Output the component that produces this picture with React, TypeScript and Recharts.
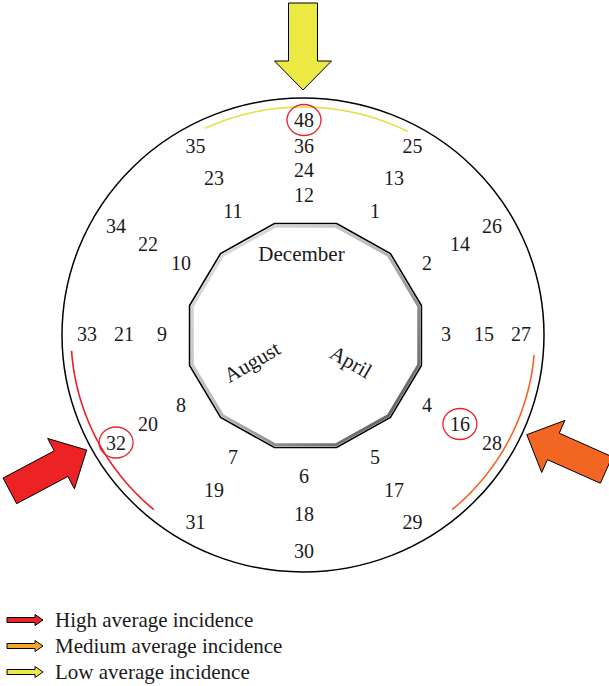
import React from 'react';
import { ScatterChart, Scatter, XAxis, YAxis, Customized } from 'recharts';

// ---------- data ----------
const weekNumbers = [
  1, 2, 3, 4, 5, 6, 7, 8, 9, 10, 11, 12,
  13, 14, 15, 16, 17, 18, 19, 20, 21, 22, 23, 24,
  25, 26, 27, 28, 29, 30, 31, 32, 33, 34, 35, 36,
  48,
];
const highlightedWeeks = [16, 32, 48];
const monthLabels = [
  { name: 'December', column: 12 },
  { name: 'April', column: 4 },
  { name: 'August', column: 8 },
];
const incidenceLevels = ['High', 'Medium', 'Low'];
const legendLabels = ['High average incidence', 'Medium average incidence', 'Low average incidence'];

// ---------- layout / style ----------
const W = 609;
const H = 686;
const FONT = '"Liberation Serif", "DejaVu Serif", serif';
const CX = 304;
const CY = 334;
const RING_R = [142, 180, 217, 245];
const TOP_R = [139, 164, 188, 214];

const levelStyle: Record<string, { arrow: string; arc: string; legend: string; arrowDeg: number; arcFrom: number; arcTo: number }> = {
  High: { arrow: '#ed2224', arc: '#e8202a', legend: '#ed2224', arrowDeg: 242, arcFrom: 220, arcTo: 266 },
  Medium: { arrow: '#f26522', arc: '#f26522', legend: '#f5a623', arrowDeg: 114, arcFrom: 95, arcTo: 140 },
  Low: { arrow: '#ece844', arc: '#e3e04c', legend: '#ece844', arrowDeg: 0, arcFrom: -25, arcTo: 27 },
};

const rad = (d: number) => (d * Math.PI) / 180;

function weekPos(w: number) {
  const col = ((w - 1) % 12) + 1;
  const ring = Math.ceil(w / 12) - 1;
  const deg = (col % 12) * 30;
  const r = col === 12 ? TOP_R[ring] : RING_R[ring];
  return { x: CX + r * Math.sin(rad(deg)), y: CY - r * Math.cos(rad(deg)) };
}

const numberData = weekNumbers.map((w) => ({ ...weekPos(w), week: w }));
const highlightData = highlightedWeeks.map((w) => ({ ...weekPos(w), week: w }));

const EX = 303;
const EY = 335;

function ellPt(rx: number, ry: number, deg: number): [number, number] {
  return [EX + rx * Math.sin(rad(deg)), EY - ry * Math.cos(rad(deg))];
}

function arcPath(rx: number, ry: number, from: number, to: number) {
  const pts: string[] = [];
  const n = 60;
  for (let i = 0; i <= n; i++) {
    const d = from + ((to - from) * i) / n;
    const [x, y] = ellPt(rx, ry, d);
    pts.push(`${i === 0 ? 'M' : 'L'}${x.toFixed(2)},${y.toFixed(2)}`);
  }
  return pts.join(' ');
}

function arrowPoints(deg: number, tipR: number) {
  const [tx, ty] = [EX + tipR * Math.sin(rad(deg)), EY - tipR * Math.cos(rad(deg))];
  const out = [Math.sin(rad(deg)), -Math.cos(rad(deg))];
  const tan = [Math.cos(rad(deg)), Math.sin(rad(deg))];
  const local = [
    [0, 0], [29, 28.5], [29, 14.5], [87, 14.5], [87, -14.5], [29, -14.5], [29, -28.5],
  ];
  return local
    .map(([u, v]) => `${(tx + u * out[0] + v * tan[0]).toFixed(2)},${(ty + u * out[1] + v * tan[1]).toFixed(2)}`)
    .join(' ');
}

function polyPoints(cx: number, cy: number, rx: number, ry: number) {
  const pts: string[] = [];
  for (let k = 0; k < 12; k++) {
    const d = 15 + 30 * k;
    pts.push(`${(cx + rx * Math.sin(rad(d))).toFixed(2)},${(cy - ry * Math.cos(rad(d))).toFixed(2)}`);
  }
  return pts.join(' ');
}

const Decor = () => {
  const PX = 305.5;
  const PY = 335.5;
  return (
    <g>
      <defs>
        <linearGradient id="bevel" x1="0" y1="0" x2="1" y2="1">
          <stop offset="0%" stopColor="#e6e6e6" />
          <stop offset="50%" stopColor="#b5b5b5" />
          <stop offset="100%" stopColor="#4a4a4a" />
        </linearGradient>
      </defs>
      <ellipse cx={EX} cy={EY} rx={241} ry={237} fill="#fff" stroke="#000" strokeWidth={1.5} />
      {incidenceLevels.map((lv) => (
        <path key={`arc-${lv}`} d={arcPath(232, 228, levelStyle[lv].arcFrom, levelStyle[lv].arcTo)} fill="none" stroke={levelStyle[lv].arc} strokeWidth={1.6} />
      ))}
      {incidenceLevels.map((lv) => (
        <polygon key={`arr-${lv}`} points={arrowPoints(levelStyle[lv].arrowDeg, 245)} fill={levelStyle[lv].arrow} stroke="#000" strokeWidth={1} strokeLinejoin="miter" />
      ))}
      <polygon points={polyPoints(PX, PY, 120, 116)} fill="#fff" stroke="#000" strokeWidth={1.6} />
      <polygon points={polyPoints(PX, PY, 117.2, 113.2)} fill="none" stroke="url(#bevel)" strokeWidth={3} />
      {monthLabels.map((m) => {
        const deg = (m.column % 12) * 30;
        const r = m.column === 12 ? 80 : 57;
        const x = PX - 4 + r * Math.sin(rad(deg));
        const y = PY - 2 - r * Math.cos(rad(deg));
        const rot = m.column === 12 ? 0 : deg < 180 ? deg - 90 : deg - 270;
        return (
          <text key={m.name} x={x} y={y} textAnchor="middle" dominantBaseline="central" fontFamily={FONT} fontSize={21} fill="#1a1a1a" transform={`rotate(${rot} ${x} ${y})`}>
            {m.name}
          </text>
        );
      })}
      {legendLabels.map((lab, i) => {
        const cy = 620 + i * 26;
        const col = levelStyle[incidenceLevels[i]].legend;
        const pts = `7,${cy - 2.5} 35,${cy - 2.5} 35,${cy - 5.5} 43,${cy} 35,${cy + 5.5} 35,${cy + 2.5} 7,${cy + 2.5}`;
        return (
          <g key={lab}>
            <polygon points={pts} fill={col} stroke="#000" strokeWidth={1} />
            <text x={55} y={cy} dominantBaseline="central" fontFamily={FONT} fontSize={21} fill="#1a1a1a">
              {lab}
            </text>
          </g>
        );
      })}
    </g>
  );
};

const NumberShape = (p: any) => (
  <text x={p.cx} y={p.cy} textAnchor="middle" dominantBaseline="central" fontFamily={FONT} fontSize={20} fill="#1a1a1a">
    {p.payload.week}
  </text>
);

const RingShape = (p: any) => (
  <ellipse cx={p.cx} cy={p.cy} rx={17} ry={15.5} fill="none" stroke="#e8232a" strokeWidth={1.3} />
);

export default function App() {
  return (
    <div style={{ position: 'absolute', left: 0, top: 0, width: W, height: H, background: '#fff' }}>
      <ScatterChart width={W} height={H} margin={{ top: 0, right: 0, bottom: 0, left: 0 }}>
        <XAxis type="number" dataKey="x" domain={[0, W]} hide allowDataOverflow />
        <YAxis type="number" dataKey="y" domain={[0, H]} reversed hide allowDataOverflow width={0} />
        <Customized component={<Decor />} />
        <Scatter data={highlightData} shape={RingShape} isAnimationActive={false} />
        <Scatter data={numberData} shape={NumberShape} isAnimationActive={false} />
      </ScatterChart>
    </div>
  );
}
